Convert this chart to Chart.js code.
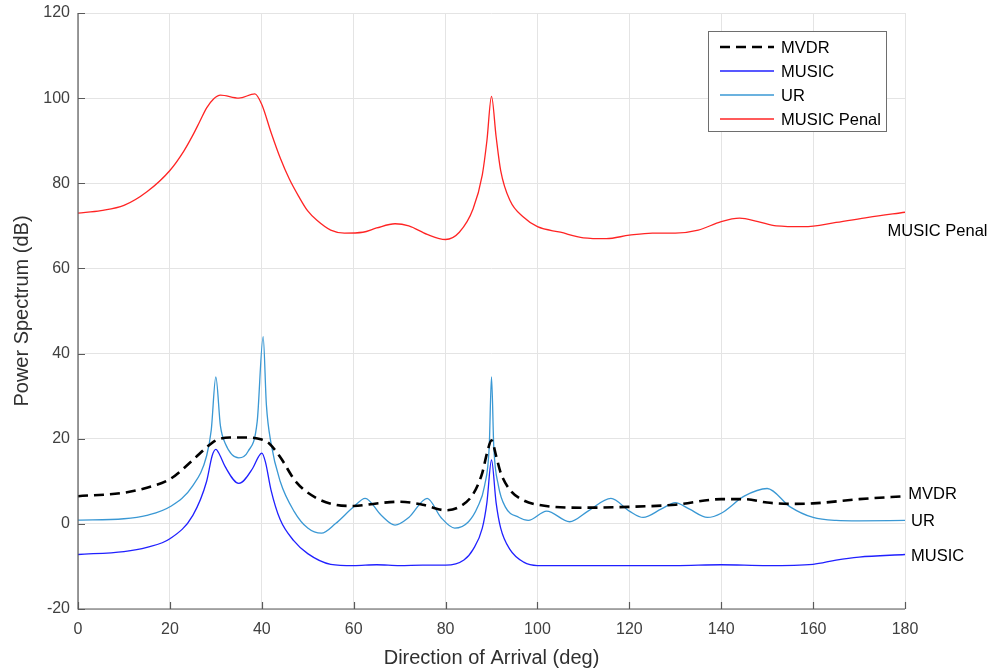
<!DOCTYPE html>
<html>
<head>
<meta charset="utf-8">
<script src="https://cdn.jsdelivr.net/npm/chart.js@4.4.1/dist/chart.umd.min.js"></script>
<style>
  html, body { margin: 0; padding: 0; background: #fff; }
  #wrap { width: 990px; height: 670px; }
</style>
</head>
<body>
<div id="wrap"><canvas id="espectro"></canvas></div>
<script>
// Espectro de potencia frente a dirección de llegada
const FUENTE = "'Liberation Sans', Arial, sans-serif";

const xTicks = [0, 20, 40, 60, 80, 100, 120, 140, 160, 180];
const yTicks = [-20, 0, 20, 40, 60, 80, 100, 120];

const mvdrX = [0, 10, 15, 20, 25, 28, 30, 33, 37, 40, 41.5, 44, 47.5, 52, 56, 60, 65, 70, 75, 80, 83, 86, 88, 89, 90, 91, 92, 94, 97, 100, 110, 120, 130, 140, 145, 150, 155, 160, 170, 180];
const mvdrY = [6.5, 7.3, 8.5, 10.5, 15, 18, 19.6, 20.3, 20.3, 19.8, 19, 15.7, 9.8, 6, 4.5, 4.2, 4.8, 5.2, 4.5, 3.2, 4, 7, 12, 16.5, 19.6, 16, 12, 8, 5.5, 4.5, 3.8, 4, 4.5, 5.8, 5.8, 5, 4.7, 4.8, 5.8, 6.5];

const musicX = [0, 10, 15, 20, 25, 28, 29.2, 30, 30.8, 32, 35, 38, 39.3, 40, 40.8, 42, 44, 47, 50, 55, 60, 65, 70, 75, 80, 84, 86, 88, 89, 90, 91, 92, 94, 97, 100, 110, 120, 130, 140, 150, 160, 165, 170, 180];
const musicY = [-7.2, -6.5, -5.5, -3.5, 2, 10, 16, 17.5, 16.3, 13.5, 9.5, 13, 15.8, 16.6, 14.5, 8, 1, -4, -7, -9.5, -9.8, -9.6, -9.8, -9.7, -9.7, -8.5, -6, -1, 5, 15, 5, -1, -6, -9, -9.8, -9.8, -9.8, -9.8, -9.6, -9.8, -9.5, -8.5, -7.8, -7.2];

const urX = [0, 10, 15, 20, 25, 28, 29, 30, 31, 32, 35, 37, 39, 40.3, 41, 42, 44, 47, 50, 53, 56, 60, 62.5, 66, 69, 72, 76, 79, 82, 85, 87, 88.5, 89.5, 90, 90.5, 91.5, 93, 96, 98, 102, 107, 111, 116, 120, 123, 127, 130, 133, 137, 140, 145, 150, 155, 160, 165, 170, 180];
const urY = [0.9, 1.2, 2, 4, 9, 16, 22, 34.5, 23, 19, 15.5, 17, 24, 44, 28, 19, 10, 3, -1, -2.2, 0, 4, 6, 2, -0.3, 1.5, 6, 1.5, -1, 0.5, 4, 9, 18, 34.5, 18, 9, 4, 1.5, 0.8, 3, 0.5, 3, 6, 3, 1.5, 3.5, 5, 3.5, 1.5, 2.5, 6.5, 8.3, 4, 1.5, 0.8, 0.7, 0.8];

const penalX = [0, 5, 10, 15, 20, 23, 25, 26.5, 28, 29.5, 31, 35, 38.5, 40, 42, 44, 46, 48, 50, 52, 55, 58, 62, 65, 69, 72, 76, 80, 83, 86, 88, 89, 90, 91, 92, 94, 97, 100, 105, 110, 115, 120, 125, 130, 135, 140, 144, 148, 152, 158, 165, 172, 180];
const penalY = [73, 73.6, 74.8, 78, 83, 87.5, 91.3, 94.5, 97.7, 99.8, 100.7, 100, 101, 98.5, 92, 86, 81, 77, 73.5, 71.3, 69, 68.3, 68.5, 69.5, 70.5, 70, 68, 66.8, 68.5, 74, 82, 90, 100.4, 91, 83, 76, 72, 69.8, 68.5, 67.2, 67, 67.8, 68.3, 68.3, 69, 71, 71.8, 71, 70, 69.8, 70.8, 72, 73.2];

// etiquetas de texto junto al final de cada curva
const etiquetas = ['MUSIC Penal', 'MVDR', 'UR', 'MUSIC'];
const etiquetaX = [176.2, 180.7, 181.3, 181.3];
const etiquetaY = [68.6, 7.0, 0.6, -7.6];

const puntos = (xs, ys) => xs.map((x, i) => ({ x: x, y: ys[i] }));

const series = [
  { label: 'MVDR', data: puntos(mvdrX, mvdrY), borderColor: '#000000', borderWidth: 2.6, borderDash: [10, 6] },
  { label: 'MUSIC', data: puntos(musicX, musicY), borderColor: '#2020ff', borderWidth: 1.3 },
  { label: 'UR', data: puntos(urX, urY), borderColor: '#3a98d4', borderWidth: 1.3 },
  { label: 'MUSIC Penal', data: puntos(penalX, penalY), borderColor: '#ff2424', borderWidth: 1.3 }
];

// ejes con marcas hacia dentro, leyenda en recuadro y textos finales
const decoracion = {
  id: 'decoracion',
  afterDatasetsDraw(chart) {
    const { ctx, chartArea: a, scales: { x, y } } = chart;
    ctx.save();
    ctx.strokeStyle = '#5a5a5a';
    ctx.lineWidth = 1.2;
    ctx.beginPath();
    ctx.moveTo(a.left, a.top);
    ctx.lineTo(a.left, a.bottom);
    ctx.lineTo(a.right, a.bottom);
    xTicks.forEach(v => {
      const px = Math.round(x.getPixelForValue(v)) + 0.5;
      ctx.moveTo(px, a.bottom);
      ctx.lineTo(px, a.bottom - 7);
    });
    yTicks.forEach(v => {
      const py = Math.round(y.getPixelForValue(v)) + 0.5;
      ctx.moveTo(a.left, py);
      ctx.lineTo(a.left + 7, py);
    });
    ctx.stroke();

    // leyenda
    const lx = 708, ly = 31, lw = 178, lh = 100;
    ctx.fillStyle = '#ffffff';
    ctx.fillRect(lx, ly, lw, lh);
    ctx.strokeStyle = '#6e6e6e';
    ctx.lineWidth = 1;
    ctx.strokeRect(lx + 0.5, ly + 0.5, lw, lh);
    ctx.font = '16.5px ' + FUENTE;
    ctx.textBaseline = 'middle';
    ctx.textAlign = 'left';
    series.forEach((s, i) => {
      const yy = ly + 16 + i * 24;
      ctx.beginPath();
      ctx.strokeStyle = s.borderColor;
      ctx.lineWidth = s.borderWidth;
      ctx.setLineDash(s.borderDash || []);
      ctx.moveTo(lx + 12, yy);
      ctx.lineTo(lx + 66, yy);
      ctx.stroke();
      ctx.setLineDash([]);
      ctx.fillStyle = '#000000';
      ctx.fillText(s.label, lx + 73, yy + 1);
    });

    // textos al final de las curvas
    ctx.fillStyle = '#000000';
    etiquetas.forEach((t, i) => {
      ctx.fillText(t, x.getPixelForValue(etiquetaX[i]), y.getPixelForValue(etiquetaY[i]));
    });
    ctx.restore();
  }
};

new Chart(document.getElementById('espectro'), {
  type: 'line',
  data: {
    datasets: series.map(s => Object.assign({
      pointRadius: 0,
      fill: false,
      cubicInterpolationMode: 'monotone'
    }, s))
  },
  options: {
    responsive: true,
    maintainAspectRatio: false,
    animation: false,
    layout: { padding: { left: 0, right: 85, top: 13, bottom: 0 } },
    plugins: { legend: { display: false }, tooltip: { enabled: false } },
    scales: {
      x: {
        type: 'linear',
        min: 0,
        max: 180,
        afterBuildTicks: sc => { sc.ticks = xTicks.map(v => ({ value: v })); },
        afterFit: sc => { sc.height = 61; sc.paddingLeft = 0; sc.paddingRight = 0; },
        grid: { color: '#e4e4e4', drawTicks: false, lineWidth: 1 },
        border: { display: false },
        ticks: { color: '#404040', font: { family: FUENTE, size: 16 }, padding: 11, maxRotation: 0 },
        title: { display: true, text: 'Direction of Arrival (deg)', color: '#303030', font: { family: FUENTE, size: 20 }, padding: { top: 0, bottom: 0 } }
      },
      y: {
        type: 'linear',
        min: -20,
        max: 120,
        afterBuildTicks: sc => { sc.ticks = yTicks.map(v => ({ value: v })); },
        afterFit: sc => { sc.width = 78; sc.paddingTop = 0; sc.paddingBottom = 0; },
        grid: { color: '#e4e4e4', drawTicks: false, lineWidth: 1 },
        border: { display: false },
        ticks: { color: '#404040', font: { family: FUENTE, size: 16 }, padding: 8 },
        title: { display: true, text: 'Power Spectrum (dB)', color: '#303030', font: { family: FUENTE, size: 20 }, padding: { top: 10, bottom: 4 } }
      }
    }
  },
  plugins: [decoracion]
});
</script>
</body>
</html>
